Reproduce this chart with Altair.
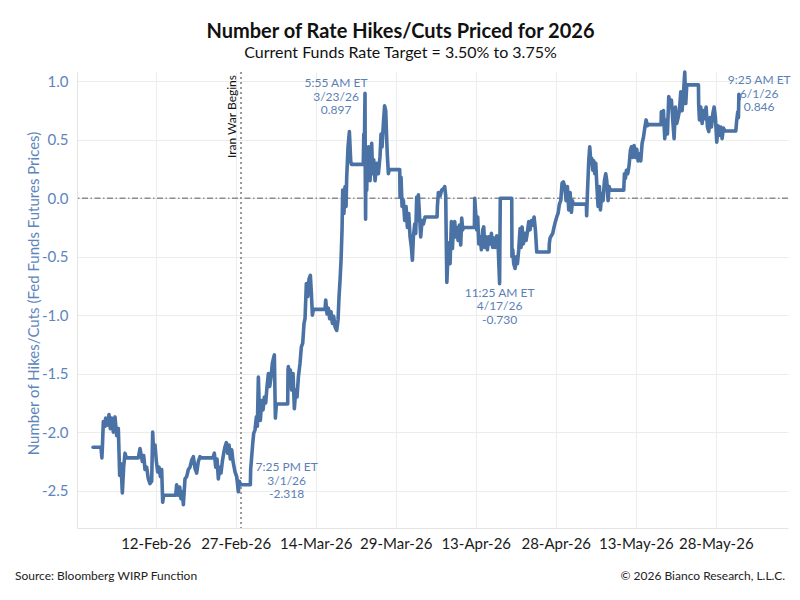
"""Number of rate hikes/cuts priced for 2026 (fed funds futures)."""
import altair as alt
import pandas as pd

BLUE = "#4a72a5"
LABEL_BLUE = "#5d85bd"
NOTE_BLUE = "#5b7fb5"

# readings Jan 31 - Feb 27 ("month-day hour")
feb_times = [
    "01-31 06:00", "02-01 18:00", "02-01 22:00", "02-02 00:00", "02-02 04:30", "02-02 12:00",
    "02-02 15:00", "02-03 00:00", "02-03 06:00", "02-03 12:00", "02-03 18:00", "02-04 01:30",
    "02-04 09:00", "02-04 16:30", "02-05 00:00", "02-05 06:00", "02-05 12:00", "02-05 18:00",
    "02-06 00:00", "02-06 06:00", "02-06 12:00", "02-08 18:00", "02-09 01:30", "02-09 12:00",
    "02-09 18:00", "02-10 00:00", "02-10 07:30", "02-10 15:00", "02-10 22:30", "02-11 06:00",
    "02-11 10:30", "02-11 15:00", "02-11 21:00", "02-12 03:00", "02-12 09:00", "02-12 15:00",
    "02-12 21:00", "02-13 03:00", "02-13 07:30", "02-13 12:00", "02-15 18:00", "02-15 22:30",
    "02-16 06:00", "02-16 12:00", "02-16 18:00", "02-17 00:00", "02-17 04:30", "02-17 12:00",
    "02-17 19:30", "02-18 03:00", "02-18 10:30", "02-18 18:00", "02-19 01:30", "02-19 09:00",
    "02-19 16:30", "02-20 00:00", "02-20 07:30", "02-20 12:00", "02-22 18:00", "02-23 00:00",
    "02-23 06:00", "02-23 12:00", "02-23 18:00", "02-24 00:00", "02-24 06:00", "02-24 12:00",
    "02-24 18:00", "02-25 00:00", "02-25 06:00", "02-25 12:00", "02-25 18:00", "02-26 00:00",
    "02-26 06:00", "02-26 12:00", "02-26 21:00", "02-27 04:30", "02-27 12:00", "02-27 16:30",
    "02-27 21:00",
]
feb_hikes = [
    -2.13, -2.13, -2.22, -2.14, -1.91, -1.95,
    -1.88, -1.94, -1.85, -1.97, -1.88, -2.00,
    -1.87, -2.03, -1.97, -2.37, -2.27, -2.52,
    -2.30, -2.18, -2.22, -2.22, -2.14, -2.25,
    -2.20, -2.32, -2.30, -2.40, -2.44, -2.42,
    -2.00, -2.18, -2.11, -2.25, -2.34, -2.30,
    -2.38, -2.32, -2.60, -2.54, -2.54, -2.45,
    -2.54, -2.47, -2.57, -2.51, -2.62, -2.40,
    -2.38, -2.32, -2.30, -2.24, -2.21, -2.31,
    -2.35, -2.25, -2.21, -2.22, -2.22, -2.18,
    -2.30, -2.23, -2.40, -2.30, -2.35, -2.25,
    -2.18, -2.125, -2.09, -2.18, -2.11, -2.23,
    -2.15, -2.25, -2.34, -2.38, -2.51, -2.42,
    -2.45,
]

# readings Mar 1 - Mar 31
mar_times = [
    "03-01 18:00", "03-01 19:25", "03-02 00:00", "03-02 04:30", "03-02 09:00", "03-02 15:00",
    "03-02 21:00", "03-03 01:30", "03-03 06:00", "03-03 10:30", "03-03 15:00", "03-03 21:00",
    "03-04 03:00", "03-04 09:00", "03-04 15:00", "03-04 21:00", "03-05 03:00", "03-05 09:00",
    "03-05 15:00", "03-05 21:00", "03-06 03:00", "03-06 06:00", "03-06 10:30", "03-06 15:00",
    "03-08 18:00", "03-08 19:30", "03-08 21:00", "03-09 01:30", "03-09 06:00", "03-09 12:00",
    "03-09 18:00", "03-10 00:00", "03-10 06:00", "03-10 12:00", "03-10 18:00", "03-11 01:30",
    "03-11 07:30", "03-11 13:30", "03-11 19:30", "03-12 00:00", "03-12 06:00", "03-12 12:00",
    "03-12 18:00", "03-13 00:00", "03-13 04:30", "03-13 09:00", "03-13 13:30", "03-15 18:00",
    "03-15 21:00", "03-16 03:00", "03-16 09:00", "03-16 15:00", "03-16 21:00", "03-17 03:00",
    "03-17 09:00", "03-17 15:00", "03-17 22:30", "03-18 04:30", "03-18 09:00", "03-18 13:30",
    "03-18 18:00", "03-18 22:30", "03-19 01:30", "03-19 07:00", "03-19 12:00", "03-19 16:30",
    "03-19 19:30", "03-20 01:30", "03-20 07:30", "03-20 13:30", "03-20 16:30", "03-22 22:00",
    "03-23 00:30", "03-23 02:30", "03-23 04:30", "03-23 05:55", "03-23 07:00", "03-23 08:30",
    "03-23 10:00", "03-23 13:30", "03-23 17:00", "03-23 21:00", "03-24 04:30", "03-24 12:00",
    "03-24 16:00", "03-24 21:00", "03-25 03:00", "03-25 10:30", "03-25 18:00", "03-26 01:30",
    "03-26 06:00", "03-26 10:30", "03-26 16:30", "03-26 22:00", "03-27 03:00", "03-27 07:30",
    "03-27 10:30", "03-27 15:00", "03-27 19:00", "03-29 18:00", "03-29 19:30", "03-30 00:00",
    "03-30 04:30", "03-30 10:30", "03-30 16:30", "03-30 22:30", "03-31 04:30", "03-31 10:30",
    "03-31 16:30", "03-31 22:30",
]
mar_hikes = [
    -2.45, -2.318, -2.21, -2.10, -2.01, -1.98,
    -1.87, -1.95, -1.53, -1.81, -1.90, -1.73,
    -1.81, -1.70, -1.75, -1.61, -1.50, -1.61,
    -1.53, -1.41, -1.36, -1.34, -1.88, -1.76,
    -1.76, -1.47, -1.44, -1.53, -1.47, -1.64,
    -1.50, -1.80, -1.64, -1.70, -1.53, -1.41,
    -1.27, -1.24, -1.07, -1.03, -0.73, -0.84,
    -0.69, -0.66, -0.81, -1.00, -0.95, -0.95,
    -0.87, -0.99, -0.94, -1.03, -0.97, -1.07,
    -1.01, -1.10, -1.13, -1.04, -0.84, -0.70,
    -0.53, -0.27, 0.07, -0.13, 0.10, -0.07,
    0.18, 0.44, 0.57, 0.32, 0.29, 0.29,
    0.55, 0.30, 0.70, 0.897, 0.20, -0.18,
    0.35, 0.07, 0.38, 0.44, 0.15, 0.47,
    0.21, 0.33, 0.15, 0.30, 0.21, 0.36,
    0.55, 0.44, 0.64, 0.79, 0.75, 0.50,
    0.36, 0.21, 0.245, 0.245, 0.01, 0.18,
    -0.07, -0.02, -0.19, -0.07, -0.25, -0.13,
    -0.33, -0.42,
]

# readings Apr 1 - Apr 30
apr_times = [
    "04-01 03:00", "04-01 07:30", "04-01 13:30", "04-01 18:00", "04-01 22:30", "04-02 01:30",
    "04-02 06:00", "04-02 10:30", "04-02 16:30", "04-02 22:30", "04-03 04:30", "04-03 12:00",
    "04-05 18:00", "04-05 19:30", "04-06 00:00", "04-06 07:30", "04-06 15:00", "04-06 22:30",
    "04-07 04:30", "04-07 09:00", "04-07 11:00", "04-07 14:00", "04-07 18:00", "04-08 00:00",
    "04-08 04:30", "04-08 10:30", "04-08 15:00", "04-08 19:30", "04-09 01:30", "04-09 06:00",
    "04-09 10:30", "04-09 16:30", "04-09 22:30", "04-10 04:30", "04-10 09:00", "04-10 13:30",
    "04-10 16:30", "04-12 18:00", "04-12 19:30", "04-13 00:00", "04-13 04:30", "04-13 09:00",
    "04-13 13:30", "04-13 19:30", "04-14 01:30", "04-14 07:30", "04-14 12:00", "04-14 16:30",
    "04-14 22:30", "04-15 04:30", "04-15 10:30", "04-15 16:30", "04-15 22:30", "04-16 04:30",
    "04-16 10:30", "04-16 16:30", "04-16 22:30", "04-17 04:30", "04-17 11:25", "04-17 12:30",
    "04-17 14:30", "04-19 18:00", "04-19 19:00", "04-19 22:30", "04-20 03:00", "04-20 09:00",
    "04-20 15:00", "04-20 19:30", "04-21 01:30", "04-21 07:30", "04-21 12:00", "04-21 16:30",
    "04-21 22:30", "04-22 04:30", "04-22 10:30", "04-22 16:30", "04-22 22:30", "04-23 04:30",
    "04-23 10:30", "04-23 16:30", "04-23 22:30", "04-24 04:30", "04-24 10:30", "04-26 18:00",
    "04-26 19:00", "04-26 22:30", "04-27 04:30", "04-27 10:30", "04-27 16:30", "04-27 22:30",
    "04-28 04:30", "04-28 10:30", "04-28 16:30", "04-28 22:30", "04-29 04:30", "04-29 10:30",
    "04-29 16:30", "04-29 22:30", "04-30 04:30", "04-30 10:30", "04-30 16:30", "04-30 22:30",
]
apr_hikes = [
    -0.53, -0.33, -0.22, -0.30, 0.01, -0.19,
    0.03, -0.13, -0.33, -0.19, -0.22, -0.16,
    -0.16, -0.07, 0.05, 0.02, 0.07, 0.08,
    0.10, 0.02, -0.30, -0.72, -0.53, -0.38,
    -0.56, -0.20, -0.43, -0.26, -0.20, -0.33,
    -0.25, -0.36, -0.23, -0.40, -0.17, -0.27,
    -0.25, -0.25, 0.0, -0.13, -0.27, -0.16,
    -0.39, -0.33, -0.44, -0.27, -0.245, -0.42,
    -0.33, -0.44, -0.33, -0.39, -0.30, -0.42,
    -0.34, -0.42, -0.32, -0.39, -0.730, -0.44,
    0.0, 0.0, -0.50, -0.44, -0.56, -0.60,
    -0.50, -0.56, -0.44, -0.26, -0.42, -0.245,
    -0.39, -0.30, -0.36, -0.29, -0.20, -0.27,
    -0.19, -0.23, -0.16, -0.27, -0.46, -0.46,
    -0.39, -0.34, -0.32, -0.30, -0.245, -0.20,
    -0.16, -0.13, -0.05, -0.02, 0.13, 0.14,
    0.10, -0.02, 0.10, -0.10, 0.05, -0.12,
]

# readings May 1 - Jun 1
may_times = [
    "05-01 03:00", "05-01 07:00", "05-03 18:00", "05-03 19:00", "05-03 22:30", "05-04 04:30",
    "05-04 09:00", "05-04 13:30", "05-04 18:00", "05-04 22:30", "05-05 03:00", "05-05 07:30",
    "05-05 12:00", "05-05 16:30", "05-05 22:30", "05-06 04:30", "05-06 09:00", "05-06 15:00",
    "05-06 21:00", "05-07 03:00", "05-07 09:00", "05-07 13:30", "05-07 19:30", "05-08 00:00",
    "05-08 04:30", "05-10 18:00", "05-10 21:00", "05-11 01:30", "05-11 06:00", "05-11 12:00",
    "05-11 18:00", "05-12 00:00", "05-12 04:30", "05-12 10:30", "05-12 16:30", "05-12 22:30",
    "05-13 04:30", "05-13 10:30", "05-13 16:30", "05-13 22:30", "05-14 04:30", "05-14 10:30",
    "05-14 16:30", "05-14 22:30", "05-15 04:30", "05-15 10:00", "05-17 18:00", "05-17 19:00",
    "05-18 00:00", "05-18 04:30", "05-18 10:30", "05-18 16:30", "05-18 22:30", "05-19 04:30",
    "05-19 10:30", "05-19 16:30", "05-19 22:30", "05-20 04:30", "05-20 10:30", "05-20 16:30",
    "05-20 22:30", "05-21 04:30", "05-21 10:30", "05-21 16:30", "05-21 22:30", "05-22 04:30",
    "05-22 09:00", "05-22 13:30", "05-24 18:00", "05-24 19:00", "05-24 22:30", "05-25 04:30",
    "05-25 10:30", "05-25 16:30", "05-25 22:30", "05-26 04:30", "05-26 10:30", "05-26 16:30",
    "05-26 22:30", "05-27 04:30", "05-27 10:30", "05-27 16:30", "05-27 22:30", "05-28 04:30",
    "05-28 10:30", "05-28 16:30", "05-28 22:30", "05-29 04:30", "05-29 10:30", "05-29 18:00",
    "05-31 18:00", "05-31 22:30", "06-01 03:00", "06-01 06:00", "06-01 08:00", "06-01 09:25",
]
may_hikes = [
    -0.02, -0.05, -0.05, -0.15, 0.04, 0.32,
    0.44, 0.32, 0.34, 0.24, 0.32, 0.21,
    0.30, 0.125, -0.07, 0.10, -0.10, 0.04,
    -0.02, 0.15, 0.21, 0.15, -0.02, 0.10,
    0.07, 0.07, 0.21, 0.17, 0.24, 0.21,
    0.28, 0.41, 0.44, 0.35, 0.45, 0.35,
    0.42, 0.32, 0.38, 0.32, 0.47, 0.52,
    0.60, 0.67, 0.62, 0.63, 0.63, 0.74,
    0.69, 0.75, 0.51, 0.67, 0.55, 0.87,
    0.81, 0.84, 0.67, 0.51, 0.78, 0.64,
    0.69, 0.75, 0.91, 0.75, 0.89, 1.08,
    0.81, 0.97, 0.97, 0.81, 0.67, 0.78,
    0.64, 0.75, 0.68, 0.78, 0.61, 0.57,
    0.69, 0.61, 0.72, 0.78, 0.69, 0.48,
    0.62, 0.54, 0.61, 0.51, 0.60, 0.575,
    0.575, 0.67, 0.74, 0.69, 0.89, 0.846,
]

# call-outs on the line
note_times = ["03-01 19:25", "03-23 05:55", "04-17 11:25", "06-01 09:25"]
note_values = [-2.318, 0.897, -0.730, 0.846]
note_labels = [
    "7:25 PM ET\n3/1/26\n-2.318",
    "5:55 AM ET\n3/23/26\n0.897",
    "11:25 AM ET\n4/17/26\n-0.730",
    "9:25 AM ET\n6/1/26\n0.846",
]

event_dates = ["02-28 00:00"]
event_labels = ["Iran War Begins"]

tick_days = [(2, 12), (2, 27), (3, 14), (3, 29), (4, 13), (4, 28), (5, 13), (5, 28)]
y_ticks = [-2.5, -2.0, -1.5, -1.0, -0.5, 0.0, 0.5, 1.0]


def to_time(stamps):
    return pd.to_datetime(["2026-" + s for s in stamps])


wirp = pd.DataFrame({
    "time": to_time(feb_times + mar_times + apr_times + may_times),
    "hikes": feb_hikes + mar_hikes + apr_hikes + may_hikes,
})
notes = pd.DataFrame({"time": to_time(note_times), "hikes": note_values, "label": note_labels})
events = pd.DataFrame({"time": to_time(event_dates), "label": event_labels})

x_scale = alt.Scale(domain=[alt.DateTime(year=2026, month=1, date=28, hours=6),
                            alt.DateTime(year=2026, month=6, date=10, hours=13)])
y_scale = alt.Scale(domain=[-2.82, 1.08], nice=False, zero=False)

x_axis = alt.Axis(
    values=[alt.DateTime(year=2026, month=m, date=d) for m, d in tick_days],
    format="%d-%b-%y", title=None, labelOverlap=False, labelFlush=False,
    labelColor="#1a1a1a", labelFontSize=15, labelPadding=8,
)
y_axis = alt.Axis(
    values=y_ticks, format=".1f",
    title="Number of Hikes/Cuts (Fed Funds Futures Prices)",
    titleColor=LABEL_BLUE, titleFontSize=15, titleFontWeight="normal",
    titleX=-44, titleY=221, titleAngle=270, titleAlign="center", titleBaseline="middle",
    labelColor=LABEL_BLUE, labelFontSize=15, labelPadding=9,
)

line = alt.Chart(wirp).mark_line(
    color=BLUE, strokeWidth=3.6, strokeJoin="round", strokeCap="round"
).encode(
    x=alt.X("time:T", scale=x_scale, axis=x_axis),
    y=alt.Y("hikes:Q", scale=y_scale, axis=y_axis),
)

zero_line = alt.Chart(pd.DataFrame({"hikes": [0.0]})).mark_rule(
    color="#8c8c8c", strokeWidth=1.5, strokeDash=[6, 2.5, 1.5, 2.5]
).encode(y="hikes:Q")

war_line = alt.Chart(events).mark_rule(
    color="#9a9a9a", strokeWidth=2, strokeDash=[2, 3]
).encode(x="time:T")

war_text = alt.Chart(events).mark_text(
    angle=270, align="right", baseline="bottom", fontSize=12, color="#111", dy=-2
).encode(x="time:T", y=alt.value(3), text="label:N")


def note_layer(i, dx, dy):
    """Blue three-line call-out for one point."""
    return alt.Chart(notes.iloc[[i]]).mark_text(
        align="center", baseline="top", lineBreak="\n", lineHeight=13.5,
        fontSize=12, color=NOTE_BLUE, dx=dx, dy=dy
    ).encode(x="time:T", y="hikes:Q", text="label:N")


note_offsets = [(36, -7), (-29, -15), (0, 4), (20, -24)]
note_layers = [note_layer(i, dx, dy) for i, (dx, dy) in enumerate(note_offsets)]

source = alt.Chart(pd.DataFrame({"t": ["Source: Bloomberg WIRP Function"]})).mark_text(
    align="left", baseline="middle", fontSize=12, color="#222"
).encode(x=alt.value(-62), y=alt.value(504), text="t:N")

credit = alt.Chart(pd.DataFrame({"t": ["\u00a9 2026 Bianco Research, L.L.C."]})).mark_text(
    align="right", baseline="middle", fontSize=12, color="#222"
).encode(x=alt.value(708), y=alt.value(504), text="t:N")

chart = alt.layer(
    zero_line, war_line, line, war_text, *note_layers, source, credit
).properties(
    width=711,
    height=456,
    autosize=alt.AutoSizeParams(type="none"),
    padding={"left": 69, "top": 64, "right": 4, "bottom": 60},
    title=alt.TitleParams(
        text="Number of Rate Hikes/Cuts Priced for 2026",
        subtitle="Current Funds Rate Target = 3.50% to 3.75%",
        fontSize=20, fontWeight="bold", color="#111",
        subtitleFontSize=16, subtitleColor="#111", subtitlePadding=3,
        anchor="middle", frame="group", dx=-32, offset=9,
    ),
).configure(
    font="Lato",
    locale=alt.Locale(number=alt.NumberLocale(
        decimal=".", thousands=",", grouping=[3], currency=["$", ""], minus="-"
    )),
).configure_view(
    stroke=None
).configure_axis(
    gridColor="#ececec", domainColor="#e4e4e4", ticks=False, labelFont="Lato", titleFont="Lato"
).configure_title(
    font="Lato", subtitleFont="Lato"
)

chart.save("out.html", embed_options={"renderer": "svg", "actions": False})
